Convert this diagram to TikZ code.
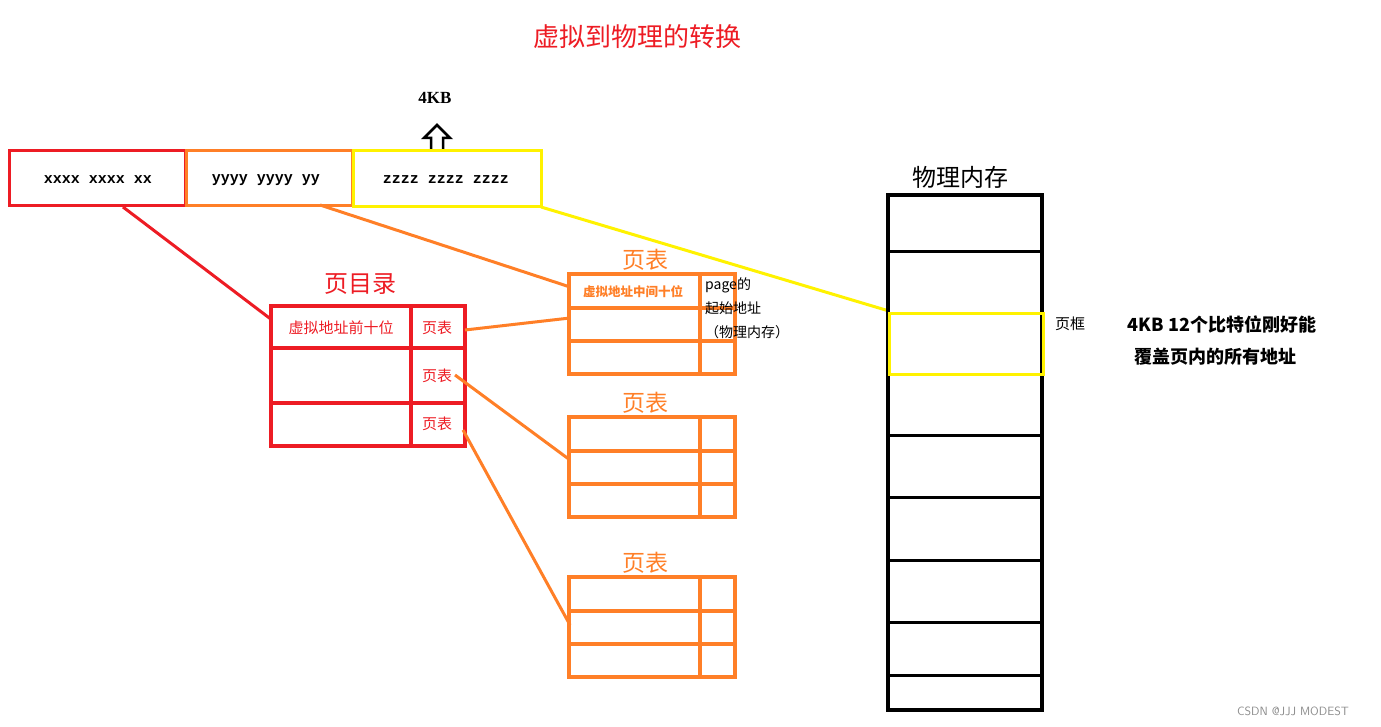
\documentclass[tikz,border=0pt]{standalone}
\usepackage{fontspec}
\setmainfont{Liberation Serif}
\newfontfamily\cjk{Noto Sans CJK SC}
\newfontfamily\monof{Liberation Mono}
\begin{document}
\begin{tikzpicture}[x=1pt,y=-1pt,
 box/.style={line width=3pt},
 lbl/.style={inner sep=0pt,font=\cjk},
]
\definecolor{cr}{RGB}{237,28,36}
\definecolor{co}{RGB}{255,127,39}
\definecolor{cy}{RGB}{255,242,0}
\useasboundingbox (0,0) rectangle (1381,727);
% title
\node[lbl,text=cr,font=\cjk\fontsize{26}{28}\selectfont] (title) at (637,37) {虚拟到物理的转换};
\node[lbl,font=\bfseries\fontsize{17}{18}\selectfont] (kb) at (435,98) {4KB};
\draw[line width=2.5pt] (431,152) -- (431,138) -- (424,138) -- (437,125) -- (450,138) -- (443,138) -- (443,152);
% address bar
\draw[box,cr] (9,151) rectangle (185,206);
\draw[box,co] (186,151) rectangle (352,206);
\draw[box,cy] (353,151) rectangle (541,207);
\node[lbl,font=\monof\bfseries\fontsize{15}{16}\selectfont] (ax) at (98,180) {xxxx xxxx xx};
\node[lbl,font=\monof\bfseries\fontsize{15}{16}\selectfont] (ay) at (266,180) {yyyy yyyy yy};
\node[lbl,font=\monof\bfseries\fontsize{15}{16}\selectfont] (az) at (446,180) {zzzz zzzz zzzz};
% connectors
\coordinate (xb) at (123,207); \coordinate (yb) at (320,205); \coordinate (zb) at (541,207);
\draw[line width=3pt,cr] (xb) -- (272,320);
\draw[line width=3pt,co] (yb) -- (570,287);
\draw[line width=3pt,cy] (zb) -- (889,311);
% directory
\node[lbl,text=cr,font=\cjk\fontsize{24}{26}\selectfont] (dirl) at (360,284) {页目录};
\draw[line width=3.5pt,cr] (271,306) rectangle (465,446);
\draw[line width=3.5pt,cr] (411,306) -- (411,446) (271,348) -- (465,348) (271,403) -- (465,403);
\node[lbl,text=cr,font=\cjk\fontsize{15}{16}\selectfont] (d0) at (341,328) {虚拟地址前十位};
\node[lbl,text=cr,font=\cjk\fontsize{15}{16}\selectfont] (p1) at (437,328) {页表};
\node[lbl,text=cr,font=\cjk\fontsize{15}{16}\selectfont] (p2) at (437,376) {页表};
\node[lbl,text=cr,font=\cjk\fontsize{15}{16}\selectfont] (p3) at (437,424) {页表};
\draw[line width=3pt,co] (465,330) -- (570,318);
\draw[line width=3pt,co] (455,375) -- (570,460);
\draw[line width=3pt,co] (463,430) -- (570,625);
% page tables
\foreach \t/\y in {1/274,2/417,3/577}{
  \draw[line width=3.5pt,co] (569,\y) rectangle (735,\y+100);
  \draw[line width=3.5pt,co] (700,\y) -- (700,\y+100) (569,\y+34) -- (735,\y+34) (569,\y+67) -- (735,\y+67);
  \node[lbl,text=co,font=\cjk\fontsize{23}{24}\selectfont] (pt\t) at (645,\y-14) {页表};
}
\node[lbl,text=co,font=\cjk\bfseries\fontsize{12.5}{13}\selectfont] (mid) at (633,292) {虚拟地址中间十位};
\node[lbl,anchor=north west,align=left,font=\cjk\fontsize{14}{24}\selectfont] (pg) at (705,277) {page的\\起始地址\\（物理内存）};
% physical memory
\node[lbl,font=\cjk\fontsize{24}{26}\selectfont] (pm) at (960,177) {物理内存};
\draw[line width=4pt] (888,195) rectangle (1042,710);
\foreach \y in {252,313,374,435,497,560,622,675}{\draw[line width=3pt] (888,\y) -- (1042,\y);}
\draw[line width=3pt,cy] (889,313) rectangle (1043,374);
\node[lbl,font=\cjk\fontsize{15}{16}\selectfont] (pf) at (1070,324) {页框};
\node[lbl,font=\cjk\bfseries\fontsize{18}{20}\selectfont] (n1) at (1222,325) {4KB 12个比特位刚好能};
\node[lbl,font=\cjk\bfseries\fontsize{18}{20}\selectfont] (n2) at (1215,357) {覆盖页内的所有地址};
\node[lbl,text=black!45,font=\sffamily\fontsize{12}{13}\selectfont] (wm) at (1293,711) {CSDN @JJJ MODEST};
\end{tikzpicture}
\end{document}
